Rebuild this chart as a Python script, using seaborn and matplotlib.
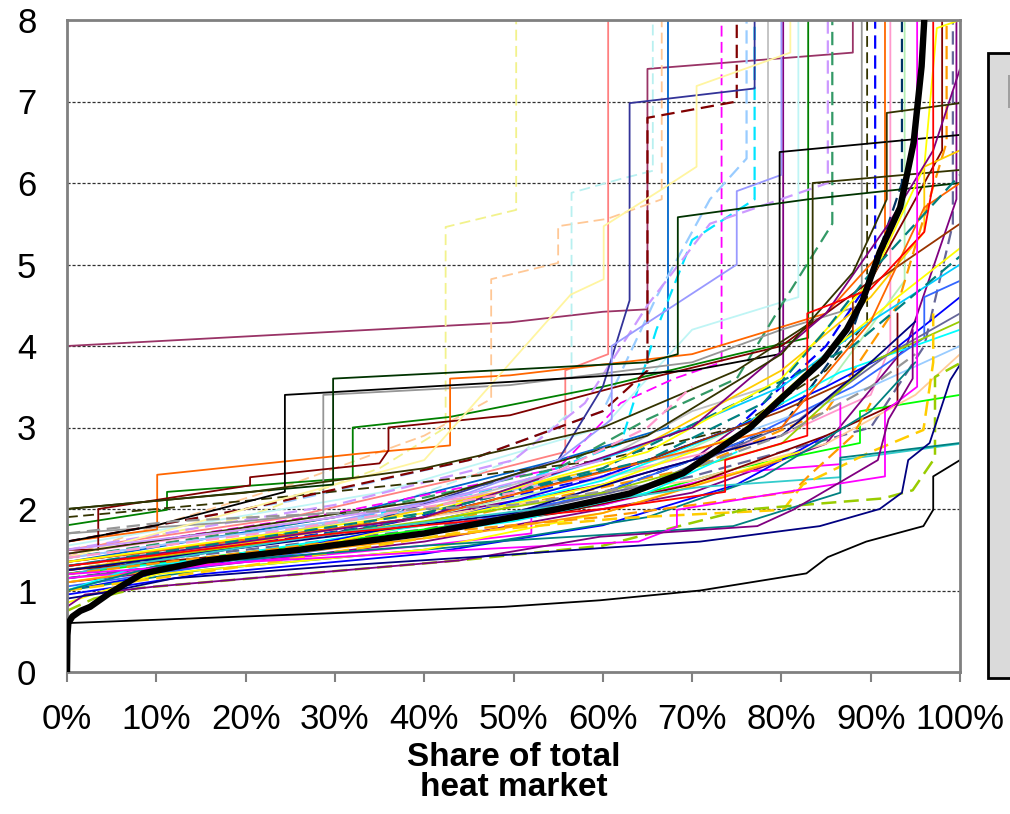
import matplotlib
matplotlib.use("Agg")
import matplotlib.pyplot as plt
import seaborn as sns
from matplotlib.patches import Rectangle

# ---------------- data (x = share of heat market in %, y = value) ----------------
x_ticks = [0, 10, 20, 30, 40, 50, 60, 70, 80, 90, 100]
x_tick_labels = ["0%", "10%", "20%", "30%", "40%", "50%", "60%", "70%", "80%", "90%", "100%"]
y_ticks = [0, 1, 2, 3, 4, 5, 6, 7, 8]
x_label = "Share of total\nheat market"

median = [(0, 0), (0.05, 0.45), (0.15, 0.6), (0.6, 0.68), (1.5, 0.75), (2.6, 0.8), (4.8, 0.97),
          (8.5, 1.21), (15.7, 1.37), (26, 1.5), (40, 1.7), (48.5, 1.87), (55, 2.0), (63, 2.19),
          (69, 2.44), (76.5, 3.0), (80.2, 3.38), (84.7, 3.83), (87.3, 4.2), (89.1, 4.56),
          (91, 5.15), (93.3, 5.7), (94.8, 6.49), (95.7, 7.43), (96, 8.0)]
black_low = [(0, 0.6), (49, 0.8), (59.7, 0.88), (70.9, 1.0), (82.8, 1.21), (85.2, 1.41), (89.5, 1.6),
             (95.9, 1.79), (97, 1.99), (97, 2.4), (100, 2.6)]
navy_low = [(0, 0.9), (4, 0.97), (12, 1.15), (30, 1.3), (49.6, 1.44), (59.7, 1.52), (70.9, 1.6),
            (84.3, 1.79), (91, 2.0), (93.5, 2.2), (94.2, 2.6), (96.6, 2.81), (98.9, 3.58), (100, 3.77)]
purple_low = [(0, 0.8), (2, 0.95), (10, 1.05), (44, 1.37), (59.7, 1.66), (77.3, 1.79), (81.3, 1.99),
              (90.8, 2.6), (92, 3.1), (94.7, 3.6), (94.7, 4.2)]
magenta_low = [(0, 1.2), (20, 1.35), (45, 1.5), (59.7, 1.58), (64, 1.6), (68.3, 1.78), (68.3, 1.99),
               (80, 2.2), (91.6, 2.4), (91.6, 3.2), (95.2, 3.5), (95.2, 8)]
teal_low = [(0, 1.0), (10, 1.3), (40, 1.55), (59.7, 1.68), (74.6, 1.79), (86.6, 2.2), (86.6, 2.63),
            (100, 2.81)]
ygreen_dash = [(0, 0.75), (3, 0.9), (8, 1.03), (44, 1.37), (60, 1.55), (75.7, 1.99), (91.4, 2.13),
               (94.7, 2.23), (97.2, 2.63), (97.2, 3.62), (100, 3.79)]
gold_dash = [(0, 1.0), (20, 1.3), (43.3, 1.7), (62.3, 1.89), (80.2, 1.99), (82.4, 2.3), (90, 2.7),
             (95.9, 2.97), (97, 3.8), (97, 4.4)]
orange_dash = [(0, 1.2), (30, 1.6), (59.7, 1.9), (81.3, 2.21), (83, 2.4), (88, 2.9), (90, 3.3)]
turq_line = [(0, 1.2), (30, 1.7), (60, 2.1), (70.9, 2.27), (86.6, 2.39), (86.6, 2.6), (100, 2.8)]
red_line = [(0, 1.3), (30, 1.7), (60, 2.0), (73.7, 2.21), (73.7, 2.6), (82.9, 2.9), (82.9, 4.4),
            (90, 4.7), (96, 5.4), (97, 6.0), (97, 8)]
gray_dash = [(0, 1.7), (12, 1.85), (30, 1.95), (50, 2.05), (65, 2.3), (80, 2.9), (90, 3.5), (95, 3.9)]

# series running up to the top of the chart
yellow_dash_top = [(0, 1.45), (20, 1.9), (35, 2.5), (42.4, 3.0), (42.4, 5.46), (50.3, 5.67), (50.3, 8)]
tan_dash_top = [(0, 1.41), (9.6, 1.78), (25, 2.3), (40, 2.9), (47.5, 3.35), (47.5, 4.82), (55, 5.02),
                (55, 5.47), (60.5, 5.56), (66.6, 5.8), (66.6, 8)]
salmon_top = [(0, 1.5), (25, 1.9), (45, 2.4), (55.8, 2.7), (55.8, 3.7), (60.6, 3.9), (60.6, 8)]
ltcyan_dash_top = [(0, 1.3), (30, 1.8), (50, 2.6), (56.5, 3.2), (56.5, 5.88), (62, 6.05), (65.6, 6.15),
                   (65.6, 8)]
blue2_top = [(0, 1.35), (30, 1.9), (55, 2.6), (67.3, 3.0), (67.3, 8)]
magenta_dash_top = [(0, 1.45), (30, 1.95), (55, 2.5), (62, 3.3), (68, 3.6), (73.3, 3.8), (73.3, 8)]
ltblue_dash_top = [(0, 1.6), (25, 2.1), (45, 2.6), (60, 3.2), (66, 4.6), (72, 5.8), (76.1, 6.3), (76.1, 8)]
cyan_dash_top = [(0, 1.2), (20, 1.6), (50, 2.3), (62, 2.8), (66, 4.2), (70, 5.3), (77, 5.8), (77, 8)]
silver_top = [(0, 1.3), (40, 2.0), (60, 2.6), (70, 3.2), (78.5, 3.5), (78.5, 8)]
purple_top = [(0, 1.25), (30, 1.7), (60, 2.3), (70, 2.6), (75, 3.0), (80.2, 3.3), (80.2, 8)]
ltcyan_top = [(0, 1.55), (35, 2.2), (60, 3.0), (70, 4.2), (81.9, 4.6), (81.9, 8)]
green_top = [(0, 1.8), (11.2, 1.99), (11.2, 2.21), (32, 2.38), (32, 3.0), (42.9, 3.13), (60, 3.5),
             (75, 3.9), (83, 4.1), (83, 8)]
lavender_dash_top = [(0, 1.5), (30, 2.05), (50, 2.6), (58, 3.3), (65, 4.5), (72, 5.5), (85.2, 6.0),
                     (85.2, 8)]
seagreen_dash_top = [(0, 1.4), (30, 1.9), (55, 2.5), (65, 3.1), (75, 3.6), (80, 4.5), (85.7, 5.5),
                     (85.7, 8)]
gray_top = [(0, 1.7), (20, 1.85), (28.7, 1.95), (28.7, 3.4), (49.6, 3.52), (70, 3.8), (80, 4.2),
            (89, 4.5), (89, 8)]
olive_dash_top = [(0, 1.9), (20, 2.1), (40, 2.33), (60, 2.6), (75, 3.0), (85, 3.7), (89.6, 4.3), (89.6, 8)]
blue_dash_top = [(0, 1.25), (35, 1.8), (60, 2.4), (75, 3.0), (85, 4.0), (90.5, 4.9), (90.5, 8)]
orange_top = [(0, 1.6), (10.1, 1.75), (10.1, 2.42), (32.8, 2.68), (42.9, 2.78), (42.9, 3.6),
              (49.6, 3.64), (70, 3.9), (85, 4.4), (91.6, 5.2), (91.6, 8)]
rose_top = [(0, 1.45), (30, 1.9), (60, 2.4), (80, 2.9), (90, 3.4), (92.2, 4.0), (92.2, 8)]
slate_dash_top = [(0, 1.15), (40, 1.7), (60, 2.2), (80, 3.0), (88, 4.2), (93.5, 6.0), (93.5, 8)]
ltgreen_top = [(0, 1.35), (40, 1.9), (65, 2.5), (85, 3.5), (93.8, 4.8), (93.8, 8)]
maroon_top = [(0, 1.5), (3.5, 1.5), (3.5, 2.0), (20.5, 2.29), (20.5, 2.39), (35, 2.56), (36, 2.72),
              (36, 3.0), (49.6, 3.15), (65, 3.6), (80, 4.0), (90, 4.8), (95, 5.8), (98, 6.4), (98, 8)]
orange2_dash_top = [(0, 1.3), (40, 1.8), (70, 2.5), (85, 3.2), (93, 4.5), (98.5, 6.5), (98.5, 8)]
slate2_dash_top = [(0, 1.25), (40, 1.75), (70, 2.4), (90, 3.0), (96, 4.0), (99.2, 5.5), (99.2, 8)]
purple2_top = [(0, 1.1), (40, 1.6), (70, 2.2), (85, 2.8), (94, 4.0), (99.6, 5.8), (99.6, 8)]
plum_four = [(0, 2.0), (0, 4.0), (49.6, 4.29), (60, 4.42), (65, 4.45), (65, 7.4), (88, 7.6), (88, 8)]
darkred_dash_top = [(0, 1.6), (20, 2.0), (45, 2.6), (60, 3.2), (65, 3.7), (65, 6.8), (75, 7.0), (75, 8)]
indigo_top = [(0, 1.2), (30, 1.7), (55, 2.6), (60, 3.5), (63, 4.56), (63, 6.98), (77, 7.16), (77, 8)]
periwinkle_top = [(0, 1.4), (30, 1.85), (45, 2.2), (55, 2.6), (61, 3.1), (61, 4.0), (68, 4.5), (75, 5.0),
                  (75, 5.9), (80, 6.1), (80, 8)]
ltyellow_top = [(0, 1.4), (40, 2.6), (56.4, 4.63), (60.1, 4.82), (60.1, 5.47), (67, 5.95), (70.5, 6.2),
                (70.5, 7.19), (81, 7.6), (81, 8)]

# series ending at the right edge
black_step = [(0, 1.6), (10, 1.8), (24.4, 2.21), (24.4, 3.4), (49.6, 3.56), (70, 3.7), (79.8, 3.9),
              (79.8, 6.38), (100, 6.59)]
darkgreen_step = [(0, 2.0), (10, 2.1), (20.5, 2.21), (29.8, 2.3), (29.8, 3.6), (49.6, 3.71), (65, 3.8),
                  (68.4, 3.9), (68.4, 5.58), (83, 5.8), (100, 6.0)]
darkolive_step = [(0, 2.0), (20, 2.2), (40, 2.5), (60, 3.0), (75, 3.7), (83.5, 4.3), (83.5, 6.0),
                  (100, 6.16)]
green_bright = [(0, 1.2), (30, 1.6), (60, 2.05), (75, 2.5), (88.8, 2.81), (88.8, 3.2), (100, 3.4)]
tan_line = [(0, 1.3), (40, 1.9), (70, 2.35), (85, 2.8), (95, 3.4), (100, 3.9)]
ltblue_line = [(0, 1.4), (40, 2.0), (70, 2.7), (90, 3.5), (100, 4.0)]
cyan_line = [(0, 1.0), (10, 1.3), (40, 1.8), (60, 2.35), (75, 3.0), (86.6, 3.68), (100, 4.2)]
blue_line = [(0, 1.0), (20, 1.4), (45, 1.95), (60, 2.4), (75, 3.0), (85, 3.5), (92, 3.9), (100, 4.6)]
sky_line = [(0, 1.3), (40, 1.9), (65, 2.8), (80, 3.5), (90, 4.3), (100, 5.0)]
yellow_line = [(0, 1.1), (30, 1.6), (60, 2.3), (75, 2.9), (85, 3.9), (93, 4.6), (100, 5.2)]
gold_line = [(0, 1.25), (30, 1.75), (60, 2.5), (80, 3.7), (90, 4.6), (96, 5.4), (96, 6.2), (100, 6.4)]
brown_line = [(0, 1.35), (40, 1.9), (65, 2.6), (80, 3.2), (88, 3.6), (88, 4.6), (100, 5.5)]
teal_dash = [(0, 1.2), (35, 1.8), (60, 2.5), (75, 3.3), (88, 4.0), (100, 5.1)]
royal_line = [(0, 1.05), (35, 1.6), (60, 2.2), (75, 2.8), (88, 3.5), (96, 4.1), (96, 4.6), (100, 4.8)]
slate_line = [(0, 1.15), (40, 1.7), (65, 2.3), (82, 3.1), (92, 3.9), (100, 4.4)]
lime_line = [(0, 1.25), (40, 1.85), (60, 2.2), (80, 2.8), (90, 3.8), (100, 4.3)]
orange2_line = [(0, 1.35), (40, 1.9), (60, 2.45), (80, 3.0), (90, 4.3), (96, 5.7), (100, 6.0)]
yellow2_line = [(0, 1.35), (40, 1.95), (65, 2.7), (80, 3.6), (90, 4.8), (96, 6.2), (97.4, 7.9), (100, 8)]
purple3_line = [(0, 1.3), (40, 1.9), (70, 3.0), (85, 4.4), (92, 5.5), (97, 6.4), (100, 7.4)]
olive2_line = [(0, 1.45), (40, 2.1), (65, 2.9), (80, 3.9), (88, 4.9), (91.8, 5.8), (91.8, 6.86), (100, 6.98)]
teal2_dash = [(0, 1.3), (40, 1.95), (65, 2.6), (78, 3.3), (85, 4.2), (90, 4.9), (95, 5.5), (100, 6.1)]

# dense middle band
magenta3 = [(0, 1.15), (20, 1.35), (40, 1.55), (52, 1.7), (52, 1.95), (60, 2.05), (75, 2.45),
            (86.6, 2.55), (86.6, 3.3)]
blue3 = [(0, 0.95), (15, 1.2), (40, 1.45), (60, 1.8), (75, 2.3), (85, 2.9)]
maroon3 = [(0, 1.25), (30, 1.55), (55, 1.95), (70, 2.3), (85, 2.9), (93, 3.3), (93, 4.4)]
teal3 = [(0, 1.0), (15, 1.25), (45, 1.55), (65, 1.9), (78, 2.4), (90, 3.2), (95, 3.8)]
yellow3 = [(0, 0.85), (10, 1.2), (40, 1.5), (60, 1.95), (75, 2.45), (82, 2.7)]
cyan3 = [(0, 1.0), (8, 1.3), (30, 1.55), (50, 1.85), (65, 2.2), (75, 2.7)]
navy3 = [(0, 1.25), (25, 1.6), (50, 1.95), (65, 2.45), (80, 2.9), (90, 3.8), (95, 4.3)]
orange3 = [(0, 1.1), (20, 1.4), (45, 1.7), (60, 1.95), (80, 2.6)]
lavender3 = [(0, 1.5), (20, 1.75), (40, 2.05), (60, 2.6)]
rose3_dash = [(0, 1.4), (25, 1.75), (50, 2.2), (65, 3.0), (70, 3.5)]

# (series, colour, linestyle, width)
LD = (0, (6, 3))
styles = [
    (plum_four, "#993366", "-", 1.3), (yellow_dash_top, "#F2F28C", LD, 1.3),
    (tan_dash_top, "#FFC896", LD, 1.3), (salmon_top, "#FF8080", "-", 1.3),
    (ltcyan_dash_top, "#B8F0F0", LD, 1.3), (blue2_top, "#0066CC", "-", 1.3),
    (magenta_dash_top, "#FF00FF", LD, 1.3), (ltblue_dash_top, "#99CCFF", LD, 1.6),
    (cyan_dash_top, "#00E5FF", LD, 1.6), (silver_top, "#C0C0C0", "-", 1.3),
    (purple_top, "#800080", "-", 1.3), (ltcyan_top, "#BFF5F5", "-", 1.3),
    (green_top, "#008000", "-", 1.3), (lavender_dash_top, "#CC99FF", LD, 1.6),
    (seagreen_dash_top, "#339966", LD, 1.6), (gray_top, "#969696", "-", 1.3),
    (olive_dash_top, "#333300", LD, 1.3), (blue_dash_top, "#0000FF", LD, 1.6),
    (orange_top, "#FF6600", "-", 1.3), (rose_top, "#FF99CC", "-", 1.3),
    (slate_dash_top, "#003366", LD, 1.6), (ltgreen_top, "#B3F0B3", "-", 1.3),
    (maroon_top, "#800000", "-", 1.3), (orange2_dash_top, "#FF9900", LD, 1.6),
    (slate2_dash_top, "#666699", LD, 1.6), (purple2_top, "#800080", "-", 1.3),
    (darkred_dash_top, "#800000", LD, 1.6), (indigo_top, "#333399", "-", 1.3),
    (periwinkle_top, "#9999FF", "-", 1.3), (ltyellow_top, "#FFF5A0", "-", 1.3),
    (black_step, "#000000", "-", 1.3), (darkgreen_step, "#003300", "-", 1.3),
    (darkolive_step, "#333300", "-", 1.3), (green_bright, "#00FF00", "-", 1.3),
    (tan_line, "#FFCC99", "-", 1.3), (ltblue_line, "#99CCFF", "-", 1.3),
    (cyan_line, "#00FFFF", "-", 1.3), (blue_line, "#0000FF", "-", 1.3),
    (sky_line, "#00CCFF", "-", 1.3), (yellow_line, "#FFFF00", "-", 1.3),
    (gold_line, "#FFCC00", "-", 1.3), (brown_line, "#993300", "-", 1.3),
    (teal_dash, "#008080", LD, 1.6), (royal_line, "#3366FF", "-", 1.3),
    (slate_line, "#666699", "-", 1.3), (lime_line, "#99CC00", "-", 1.3),
    (orange2_line, "#FF6600", "-", 1.3), (yellow2_line, "#FFFF00", "-", 1.3),
    (purple3_line, "#800080", "-", 1.3), (olive2_line, "#333300", "-", 1.3),
    (teal2_dash, "#008080", LD, 1.6), (magenta3, "#FF00FF", "-", 1.3),
    (blue3, "#0000FF", "-", 1.3), (maroon3, "#800000", "-", 1.3),
    (teal3, "#008080", "-", 1.3), (yellow3, "#FFFF00", "-", 1.3),
    (cyan3, "#00FFFF", "-", 1.3), (navy3, "#000080", "-", 1.3),
    (orange3, "#FF9900", "-", 1.3), (lavender3, "#CC99FF", "-", 1.3),
    (rose3_dash, "#FF99CC", LD, 1.6), (gray_dash, "#969696", LD, 1.6),
    (turq_line, "#33CCCC", "-", 1.3), (red_line, "#FF0000", "-", 1.3),
    (orange_dash, "#FF9900", LD, 1.6), (gold_dash, "#FFCC00", LD, 1.8),
    (ygreen_dash, "#99CC00", LD, 1.8), (teal_low, "#008080", "-", 1.3),
    (magenta_low, "#FF00FF", "-", 1.3), (purple_low, "#800080", "-", 1.3),
    (navy_low, "#000080", "-", 1.3), (black_low, "#000000", "-", 1.3),
    (median, "#000000", "-", 4.6),
]

# ---------------- figure ----------------
sns.set_theme(style="white")
plt.rcParams["font.family"] = ["Liberation Sans", "DejaVu Sans"]
plt.rcParams["text.color"] = "black"
plt.rcParams["xtick.color"] = "black"
plt.rcParams["ytick.color"] = "black"
plt.rcParams["axes.labelcolor"] = "black"

fig = plt.figure(figsize=(10.10, 8.14), dpi=100)
ax = fig.add_axes([67 / 1010, 1 - 672 / 814, (960 - 67) / 1010, (672 - 20) / 814])

for pts, col, ls, lw in styles:
    xs = [p[0] for p in pts]
    ys = [p[1] for p in pts]
    sns.lineplot(x=xs, y=ys, ax=ax, color=col, linestyle=ls, linewidth=lw,
                 estimator=None, sort=False, legend=False,
                 zorder=5 if lw > 3 else 2)

ax.set_xlim(0, 100)
ax.set_ylim(0, 8)
ax.set_xticks(x_ticks)
ax.set_xticklabels(x_tick_labels, fontsize=25, color="black")
ax.set_yticks(y_ticks)
ax.set_yticklabels([str(v) for v in y_ticks], fontsize=25, color="black")
ax.tick_params(axis="y", length=0, pad=22, labelcolor="black")
ax.tick_params(axis="x", length=7, width=1.5, color="#808080", direction="out", pad=15,
               bottom=True, labelcolor="black")

for y in y_ticks[1:-1]:
    ax.axhline(y, color="#303030", linewidth=0.9, linestyle=(0, (2.5, 1.5)), zorder=1)

for side in ["left", "bottom", "top", "right"]:
    ax.spines[side].set_visible(True)
    ax.spines[side].set_color("#808080")
    ax.spines[side].set_linewidth(2)

ax.set_xlabel(x_label, fontsize=24, fontweight="bold", linespacing=0.95, labelpad=5, color="black")
ax.set_ylabel("")

# legend box (cut off at the right edge of the image)
fig.patches.append(Rectangle((988 / 1010, 1 - 678 / 814), 0.05, (678 - 53) / 814,
                             transform=fig.transFigure, facecolor="#DADADA",
                             edgecolor="black", linewidth=2, zorder=0))
fig.patches.append(Rectangle((1008 / 1010, 1 - 108 / 814), 0.01, 33 / 814,
                             transform=fig.transFigure, facecolor="#A0A0A0",
                             edgecolor="none", zorder=1))

fig.savefig("out.png", dpi=100)
